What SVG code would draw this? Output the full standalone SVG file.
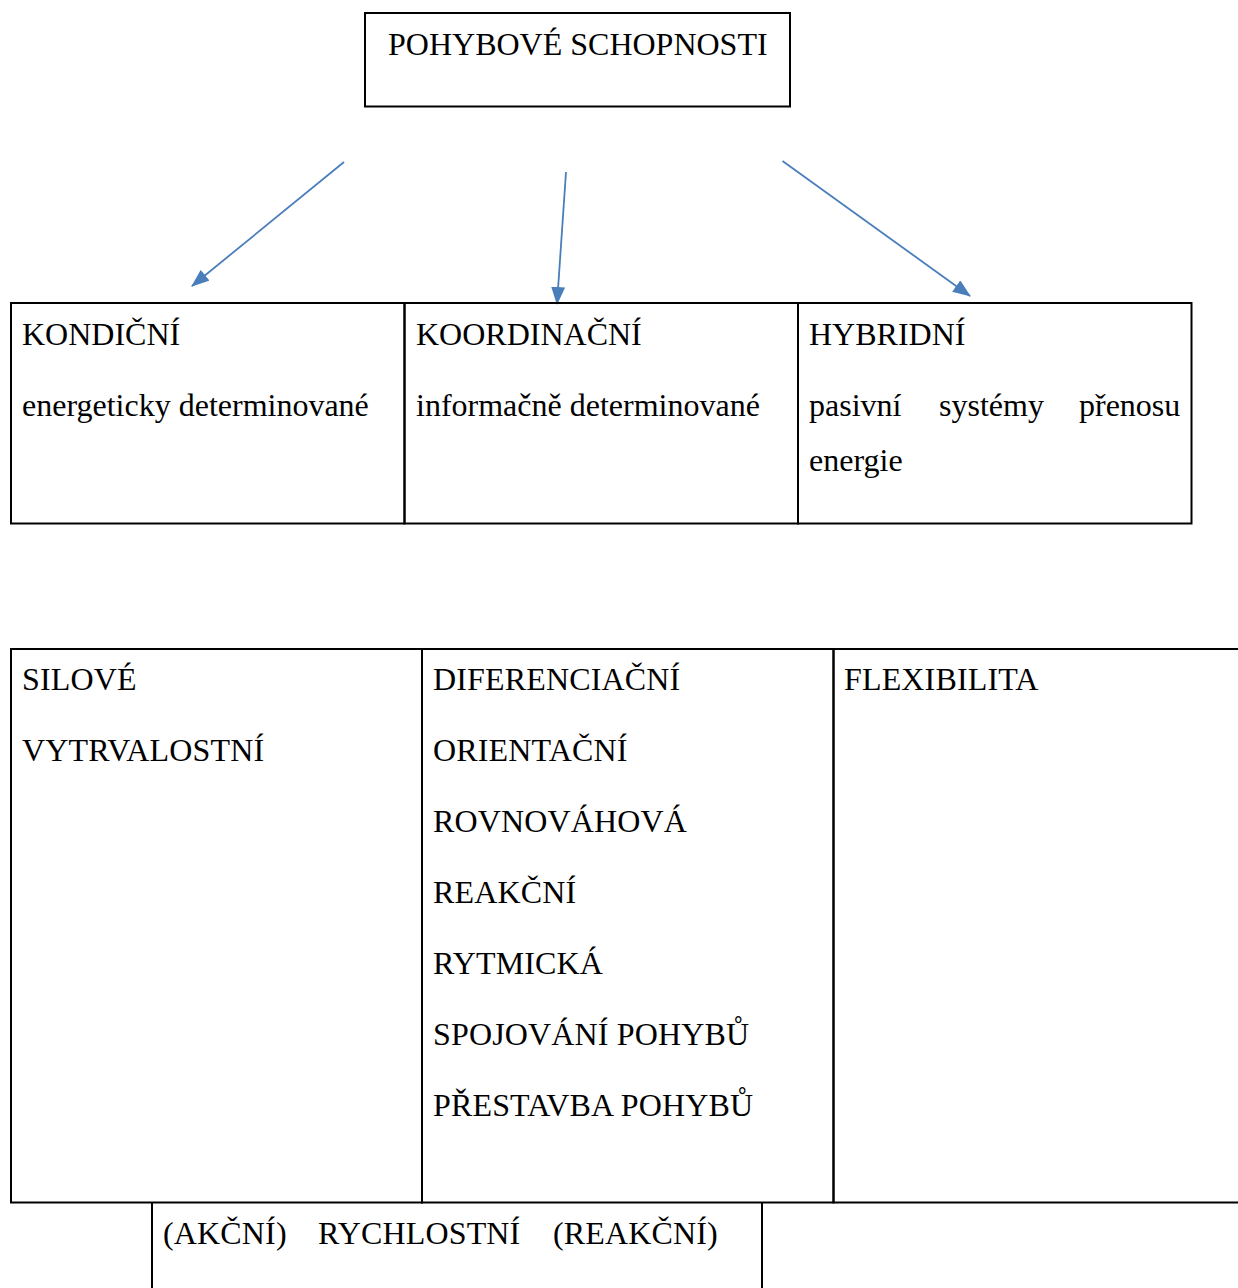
<svg xmlns="http://www.w3.org/2000/svg" width="1238" height="1288" viewBox="0 0 1238 1288">
<style>
  text { font-family: "Liberation Serif", "Times New Roman", serif; font-size: 32px; fill: #000; }
  .wide { letter-spacing: 0.15px; }
  .cell { fill: none; stroke: #000; stroke-width: 2; }
  .conn { stroke: #4A7EBB; stroke-width: 1.8; fill: none; marker-end: url(#arrow); }
</style>
<defs>
  <marker id="arrow" markerUnits="userSpaceOnUse" markerWidth="18" markerHeight="14" viewBox="0 0 18 14" refX="17" refY="7" orient="auto">
    <path d="M0,0 L18,7 L0,14 Z" fill="#4A7EBB"/>
  </marker>
</defs>
<rect width="1238" height="1288" fill="#fff"/>

<g id="pohybove-schopnosti">
  <rect class="cell" x="365" y="13" width="425" height="93.5"/>
  <text x="388" y="55">POHYBOVÉ SCHOPNOSTI</text>
</g>

<g id="connectors">
  <line class="conn" x1="344" y1="162" x2="192" y2="286"/>
  <line class="conn" x1="566" y1="172" x2="557" y2="304"/>
  <line class="conn" x1="782.5" y1="161" x2="970" y2="296"/>
</g>

<g id="kondicni">
  <rect class="cell" x="11" y="303" width="393.5" height="220.5"/>
  <text x="22" y="345">KONDIČNÍ</text>
  <text x="22" y="416">energeticky determinované</text>
</g>
<g id="koordinacni">
  <rect class="cell" x="404.5" y="303" width="393.5" height="220.5"/>
  <text x="416" y="345">KOORDINAČNÍ</text>
  <text x="416" y="416">informačně determinované</text>
</g>
<g id="hybridni">
  <rect class="cell" x="798" y="303" width="393.5" height="220.5"/>
  <text x="809" y="345">HYBRIDNÍ</text>
  <text y="416"><tspan x="809">pasivní</tspan><tspan x="939">systémy</tspan><tspan x="1079">přenosu</tspan></text>
  <text x="809" y="471">energie</text>
</g>

<g id="silove-vytrvalostni">
  <rect class="cell" x="11" y="649" width="411" height="553.5"/>
  <text class="wide" x="22" y="689.5">SILOVÉ</text>
  <text class="wide" x="22" y="760.5">VYTRVALOSTNÍ</text>
</g>
<g id="koordinacni-schopnosti">
  <rect class="cell" x="422" y="649" width="411.5" height="553.5"/>
  <text class="wide" x="433" y="689.5">DIFERENCIAČNÍ</text>
  <text class="wide" x="433" y="760.5">ORIENTAČNÍ</text>
  <text class="wide" x="433" y="831.5">ROVNOVÁHOVÁ</text>
  <text class="wide" x="433" y="902.5">REAKČNÍ</text>
  <text class="wide" x="433" y="973.5">RYTMICKÁ</text>
  <text class="wide" x="433" y="1044.5">SPOJOVÁNÍ POHYBŮ</text>
  <text class="wide" x="433" y="1115.5">PŘESTAVBA POHYBŮ</text>
</g>
<g id="flexibilita">
  <path class="cell" d="M833.5 649 H1238 M833.5 649 V1202.5 H1238"/>
  <text class="wide" x="844" y="689.5">FLEXIBILITA</text>
</g>
<g id="rychlostni">
  <path class="cell" d="M152 1202.5 V1288 M762 1202.5 V1288"/>
  <text class="wide" y="1243.5"><tspan x="163">(AKČNÍ)</tspan><tspan x="318">RYCHLOSTNÍ</tspan><tspan x="553">(REAKČNÍ)</tspan></text>
</g>
</svg>
